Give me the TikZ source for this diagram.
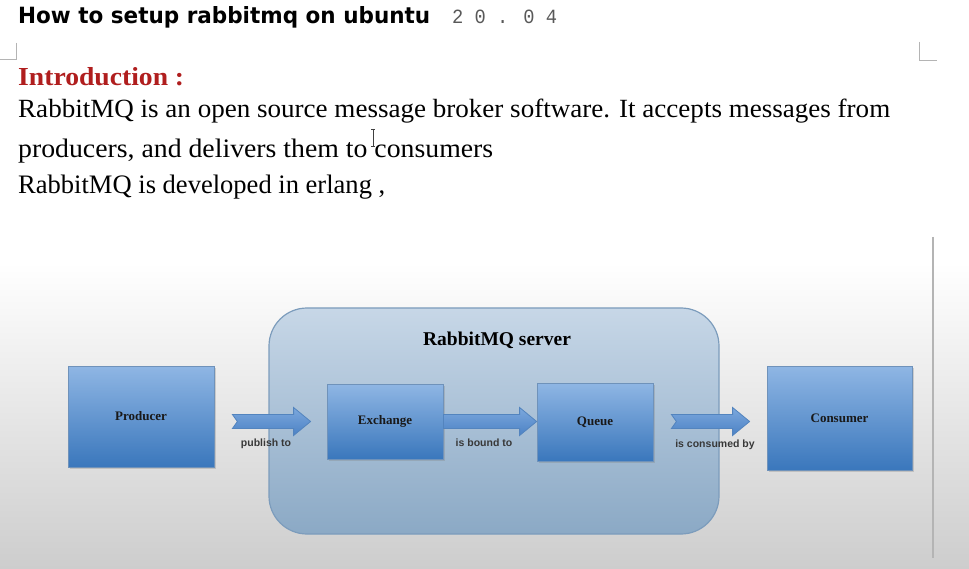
\documentclass[tikz,border=0pt]{standalone}
\usepackage{fontspec}
\setmainfont{Liberation Serif}
\newfontfamily\titlefont{DejaVu Sans}
\newfontfamily\digitfont{Liberation Mono}
\newfontfamily\lblfont{Liberation Sans}
\usetikzlibrary{calc,shadows}
\definecolor{bggray}{HTML}{CDCDCD}
\definecolor{bgmid}{HTML}{E4E4E4}
\definecolor{marks}{HTML}{B4B4B4}
\definecolor{introred}{HTML}{B01E1E}
\definecolor{srvtop}{HTML}{C7D7E7}
\definecolor{srvbot}{HTML}{8BA9C5}
\definecolor{srvline}{HTML}{7C9CBC}
\definecolor{boxtop}{HTML}{8FB6E4}
\definecolor{boxbot}{HTML}{3A77BC}
\definecolor{boxline}{HTML}{6F92BA}
\definecolor{arrtop}{HTML}{7CA8DD}
\definecolor{arrbot}{HTML}{4C82C5}
\definecolor{arrline}{HTML}{5384BE}
\definecolor{lblgray}{HTML}{383838}
\tikzset{
  servbox/.style={draw=srvline, line width=1.2pt, rounded corners=38pt,
    top color=srvtop, bottom color=srvbot, inner sep=0pt},
  bluebox/.style={draw=boxline, line width=0.8pt, top color=boxtop, bottom color=boxbot,
    drop shadow={shadow xshift=1.5pt, shadow yshift=-1.5pt, opacity=0.3},
    font=\fontsize{13pt}{15pt}\selectfont\bfseries, text=black!90, inner sep=0pt},
  barrow/.style={draw=arrline, line width=0.8pt, top color=arrtop, bottom color=arrbot},
  arrlbl/.style={font=\lblfont\fontsize{10.5pt}{12pt}\selectfont\bfseries, text=lblgray, inner sep=0pt},
  txt/.style={anchor=base west, inner sep=0pt}
}
\newcommand\blockarrow[3]{%
  \path[barrow] let \p1=(#2), \p2=(#3) in
    (\x1,\y1+7pt) -- (\x2-17pt,\y1+7pt) -- (\x2-17pt,\y1+14pt) -- (\x2,\y1)
    -- (\x2-17pt,\y1-14pt) -- (\x2-17pt,\y1-7pt) -- (\x1,\y1-7pt) -- (\x1+#1,\y1) -- cycle;}
\begin{document}
\begin{tikzpicture}[x=1pt,y=-1pt]
\useasboundingbox (0,0) rectangle (969,569);
\fill[white] (0,0) rectangle (969,569);
\shade[top color=white, middle color=bgmid, bottom color=bggray] (0,262) rectangle (969,569);
% page corner marks and margin line
\draw[marks, line width=1pt] (16,43) -- (16,60) -- (0,60);
\draw[marks, line width=1pt] (919,42) -- (919,61) -- (937,61);
\draw[marks, line width=1.6pt] (933,237) -- (933,558);
% title
\node[txt] (title) at (18,23.3) {\resizebox{412pt}{17pt}{\titlefont\bfseries How to setup rabbitmq on ubuntu}};
\node[txt, text=black!65] (ver) at (452,23.3) {\resizebox{105pt}{13.5pt}{\digitfont 2 0 . 0 4}};
% text
\node[txt, text=introred] (intro) at (18,86) {\resizebox{166pt}{18pt}{\bfseries Introduction :}};
\node[txt] (l1) at (18,117.7) {\resizebox{872pt}{18.5pt}{RabbitMQ is an open source message broker software. It accepts messages from}};
\node[txt] (l2) at (18,157.3) {\resizebox{475pt}{18.5pt}{producers, and delivers them to consumers}};
\node[txt] (l3) at (18,193.5) {\resizebox{367pt}{18.5pt}{RabbitMQ is developed in erlang ,}};
% text cursor
\draw[black!75, line width=0.8pt] (373,129) -- (373,146) (371,129) -- (375,129) (371,146) -- (375,146);
% diagram
\node[servbox, minimum width=450pt, minimum height=226pt] (srv) at (494,421) {};
\node[anchor=base, inner sep=0pt, font=\fontsize{19.5pt}{22pt}\selectfont\bfseries] (srvt) at (497,345) {RabbitMQ server};
\node[bluebox, minimum width=146pt, minimum height=101pt] (prod) at (141,416.5) {Producer};
\node[bluebox, minimum width=116pt, minimum height=75pt] (exch) at (385,421.5) {Exchange};
\node[bluebox, minimum width=116pt, minimum height=78pt] (queue) at (595,422) {Queue};
\node[bluebox, minimum width=145pt, minimum height=104pt] (cons) at (839.5,418) {Consumer};
\blockarrow{5pt}{$(prod.east |- exch.west)+(18,0)$}{$(exch.west)+(-16,0)$}
\blockarrow{0pt}{exch.east}{queue.west |- exch.east}
\blockarrow{5pt}{$(queue.east |- exch.east)+(18,0)$}{$(cons.west |- exch.east)+(-17,0)$}
\node[arrlbl] (lb1) at (266,444) {publish to};
\node[arrlbl] (lb2) at (484,443) {is bound to};
\node[arrlbl] (lb3) at (715,445) {is consumed by};
\end{tikzpicture}
\end{document}
